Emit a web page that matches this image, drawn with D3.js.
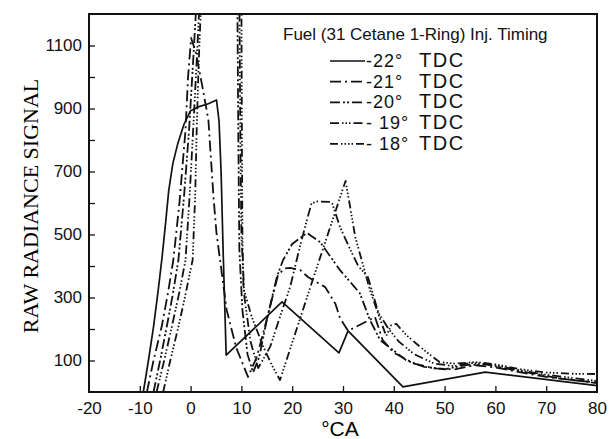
<!DOCTYPE html>
<html>
<head>
<meta charset="utf-8">
<script src="https://cdn.jsdelivr.net/npm/d3@7"></script>
<style>
  body { margin: 0; background: #fff; }
</style>
</head>
<body>
<div id="chart"></div>
<script>
// Data: [crank angle °CA, raw radiance signal]
const timings = ["-22°", "-21°", "-20°", "- 19°", "- 18°"];

const ca22 = [[-9.3,0],[-8.3,100],[-7.3,207],[-6.4,320],[-5.6,430],[-4.9,540],[-4.3,640],[-3.5,725],[-2.5,790],
  [-1.3,850],[0,893],[1.5,905],[3.5,915],[5.1,927],[5.6,860],[6.0,700],[6.4,450],[6.8,230],[7.0,117],
  [18,286],[29.2,124],[31,194],[41.8,16],[58,63],[80,20]];

const ca21 = [[-8.6,0],[-7.3,100],[-5.7,207],[-4.5,310],[-3.4,419],[-2.2,600],[-1.0,832],[-0.5,1000],[0.1,1124],[1.0,1080],
  [2.2,980],[3.5,864],[4.5,620],[5.1,504],[5.8,419],[7.1,260],[9,140],[11.3,48],[13,110],[15,230],[17.2,371],
  [18.5,392],[19.6,394],[21.6,387],[23.1,365],[26.5,333],[28.5,280],[29.4,235],[31,194],[36.3,238],[37.8,165],
  [40,125],[44,90],[48,75],[52,72],[56,85],[60,78],[65,62],[70,48],[75,38],[80,30]];

const ca20 = [[-7.3,0],[-6,100],[-4.7,207],[-3.5,310],[-2.4,419],[-1.3,620],[-0.3,832],[0.5,1050],[1.2,1250],
  [2,1400],[8.8,1400],[9.2,1250],[9.4,800],[9.6,450],[10.2,260],[11.2,120],[12.3,62],[13.5,110],[15,229],
  [17,366],[18.2,419],[20,470],[22.9,505],[25.5,476],[29.4,387],[33.3,314],[35.3,229],[37.3,165],[42.5,100],
  [46,80],[50,72],[54,85],[58,88],[62,75],[67,60],[72,45],[80,28]];

const ca19 = [[-6.7,0],[-5.2,100],[-3.7,207],[-2.3,310],[-1.0,419],[-0.2,620],[0.5,832],[1.2,1050],[1.8,1250],
  [2.5,1400],[9.2,1400],[9.6,1250],[9.8,800],[10,500],[10.6,300],[11.8,160],[13.3,76],[14.5,110],[15.7,145],
  [17.6,239],[19.6,334],[21.5,460],[22.9,546],[23.8,599],[25,605],[27.8,603],[29.4,524],[31.5,450],[33,400],
  [34.9,365],[37,250],[39,200],[41,160],[44,120],[48,90],[52,82],[55,92],[58,90],[62,78],[66,65],[70,55],
  [75,45],[80,35]];

const ca18 = [[-5.4,0],[-4,100],[-2.4,207],[-1,310],[0.4,419],[0.9,620],[1.2,832],[1.6,1050],[2.1,1250],
  [3,1400],[9.6,1400],[10,1250],[10.1,800],[10.2,500],[10.4,330],[12,240],[14.3,144],[16.2,79],[17.6,38],
  [24,354],[30.5,670],[31.4,588],[32.4,493],[35.3,324],[37,245],[38.5,178],[39.5,212],[40.5,216],[42.5,180],
  [45.8,135],[49,95],[52,90],[56,95],[60,88],[65,72],[70,62],[75,58],[80,57]];

const seriesValues = [ca22, ca21, ca20, ca19, ca18];
const xTicks = d3.range(-20, 81, 10);
const yTicks = d3.range(100, 1200, 100);
const yLabels = [100, 300, 500, 700, 900, 1100];

// Layout
const width = 612, height = 439;
const margin = { top: 14, right: 15, bottom: 47, left: 89 };
const dashes = ["none", "11,4,2,4", "10,3,2,2,2,3", "9,3,1.5,2,1.5,2,1.5,3", "8,3,1.5,2,1.5,2,1.5,2,1.5,3"];

const svg = d3.select("#chart").append("svg")
  .attr("width", width)
  .attr("height", height);

const x = d3.scaleLinear().domain([-20, 80]).range([margin.left, width - margin.right]);
const y = d3.scaleLinear().domain([0, 1200]).range([height - margin.bottom, margin.top]);

svg.append("clipPath").attr("id", "plot")
  .append("rect")
  .attr("x", x(-20)).attr("y", y(1200))
  .attr("width", x(80) - x(-20)).attr("height", y(0) - y(1200));

// Curves
const line = d3.line().x(d => x(d[0])).y(d => y(d[1]));

svg.append("g")
  .attr("clip-path", "url(#plot)")
  .selectAll("path")
  .data(seriesValues)
  .join("path")
  .attr("d", line)
  .attr("fill", "none")
  .attr("stroke", "#111")
  .attr("stroke-width", (d, i) => i === 0 ? 1.7 : 1.8)
  .attr("stroke-linejoin", "round")
  .attr("stroke-dasharray", (d, i) => dashes[i]);

// Axes (ticks point inward)
const xAxis = svg.append("g")
  .attr("transform", `translate(0,${y(0)})`)
  .call(d3.axisBottom(x).tickValues(xTicks).tickSize(-6).tickPadding(10));

const yAxis = svg.append("g")
  .attr("transform", `translate(${x(-20)},0)`)
  .call(d3.axisLeft(y).tickValues(yTicks).tickSize(-6).tickPadding(7)
    .tickFormat(d => yLabels.includes(d) ? d : ""));

[xAxis, yAxis].forEach(g => {
  g.select(".domain").remove();
  g.selectAll(".tick line").attr("stroke", "#111").attr("stroke-width", 1.3);
  g.selectAll(".tick text")
    .attr("fill", "#111")
    .style("font-family", "Liberation Sans, Arial, sans-serif")
    .style("font-size", "17px");
});
xAxis.selectAll(".tick")
  .filter(d => d === -20 || d === 80)
  .select("line").remove();
xAxis.selectAll(".tick text").text(d => d < 0 ? "-" + Math.abs(d) : d);

// Frame
svg.append("rect")
  .attr("x", x(-20)).attr("y", y(1200))
  .attr("width", x(80) - x(-20)).attr("height", y(0) - y(1200))
  .attr("fill", "none")
  .attr("stroke", "#111")
  .attr("stroke-width", 2);

// Axis titles
svg.append("text")
  .attr("x", (x(-20) + x(80)) / 2 - 3)
  .attr("y", 436)
  .attr("text-anchor", "middle")
  .style("font-family", "Liberation Sans, Arial, sans-serif")
  .style("font-size", "21px")
  .text("°CA");

svg.append("text")
  .attr("transform", `translate(38,${(y(0) + y(1200)) / 2 + 3}) rotate(-90)`)
  .attr("text-anchor", "middle")
  .style("font-family", "Liberation Serif, Times New Roman, serif")
  .style("font-size", "22px")
  .text("RAW RADIANCE SIGNAL");

// Legend
const legend = svg.append("g")
  .style("font-family", "Liberation Sans, Arial, sans-serif")
  .attr("fill", "#111");

legend.append("text")
  .attr("x", 283).attr("y", 40)
  .style("font-size", "17px")
  .text("Fuel (31 Cetane 1-Ring) Inj. Timing");

const rows = legend.selectAll("g.row")
  .data(timings)
  .join("g")
  .attr("class", "row")
  .attr("transform", (d, i) => `translate(0,${67 + i * 20.7})`)
  .style("font-size", "18px");

rows.append("line")
  .attr("x1", 330).attr("x2", 365)
  .attr("y1", -6).attr("y2", -6)
  .attr("stroke", "#111")
  .attr("stroke-width", 1.7)
  .attr("stroke-dasharray", (d, i) => dashes[i]);

rows.append("text")
  .attr("x", 366)
  .style("letter-spacing", "1px")
  .text(d => d);

rows.append("text")
  .attr("x", 419)
  .style("font-size", "20px")
  .style("letter-spacing", "1.5px")
  .text("TDC");
</script>
</body>
</html>
